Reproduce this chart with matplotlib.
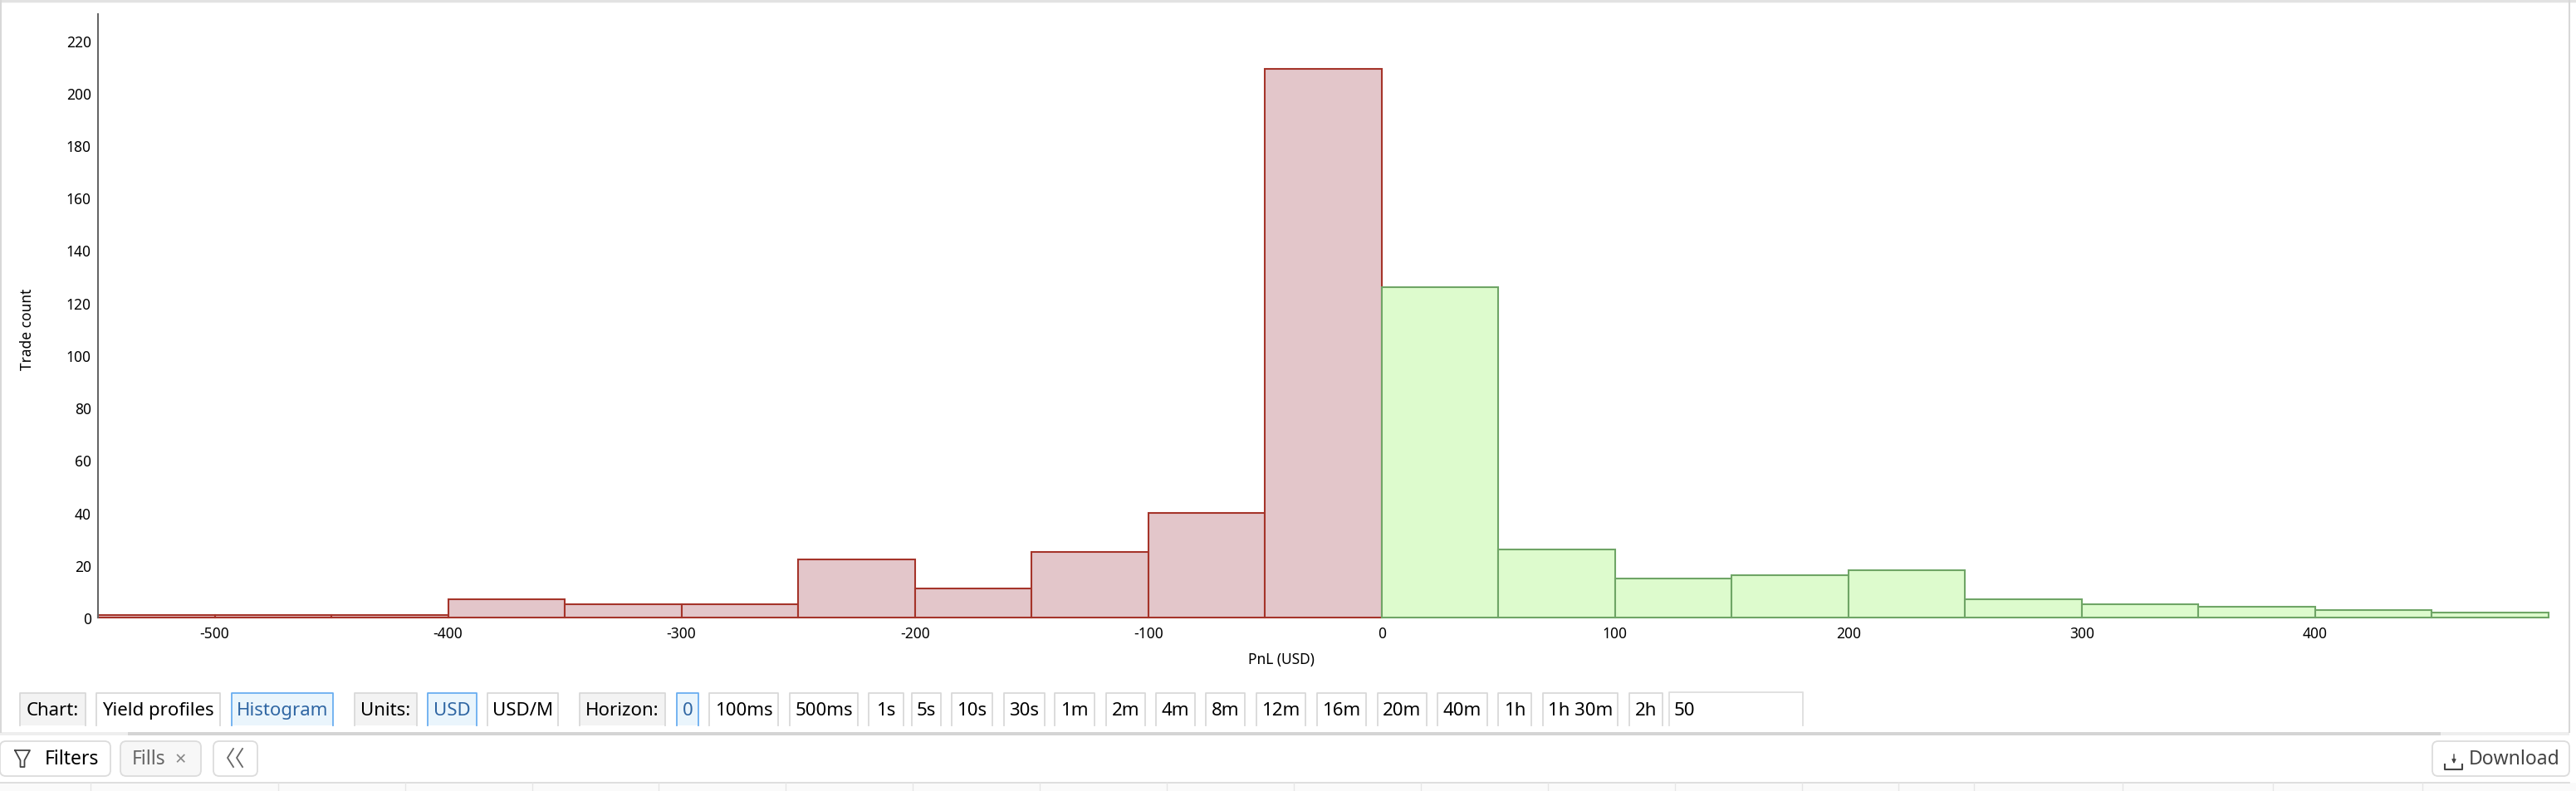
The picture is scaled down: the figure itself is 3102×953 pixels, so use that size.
import matplotlib
matplotlib.use("Agg")
import matplotlib.pyplot as plt
from matplotlib.patches import FancyBboxPatch, Rectangle

W, H = 3102, 954
plt.rcParams['font.family'] = ['Noto Sans', 'DejaVu Sans']
plt.rcParams['axes.unicode_minus'] = False

# histogram data
loss_bins = [-550, -500, -450, -400, -350, -300, -250, -200, -150, -100, -50]
loss_counts = [1, 1, 1, 7, 5, 5, 22, 11, 25, 40, 209]
gain_bins = [0, 50, 100, 150, 200, 250, 300, 350, 400, 450]
gain_counts = [126, 26, 15, 16, 18, 7, 5, 4, 3, 2]
bin_width = 50
x_ticks = [-500, -400, -300, -200, -100, 0, 100, 200, 300, 400]
y_ticks = list(range(0, 221, 20))

# toolbar
toolbar_labels = ["Chart:", "Yield profiles", "Histogram", "Units:", "USD", "USD/M", "Horizon:",
                  "0", "100ms", "500ms", "1s", "5s", "10s", "30s", "1m", "2m", "4m", "8m",
                  "12m", "16m", "20m", "40m", "1h", "1h 30m", "2h"]
toolbar_left = [24, 116, 279, 427, 515, 587, 698, 815, 854, 951, 1046, 1098, 1146, 1209, 1270,
                1332, 1392, 1452, 1513, 1586, 1659, 1731, 1804, 1858, 1962]
toolbar_right = [103, 265, 401, 502, 574, 672, 801, 841, 937, 1033, 1088, 1133, 1195, 1258, 1318,
                 1379, 1439, 1499, 1572, 1645, 1718, 1791, 1844, 1948, 2002]
caption_labels = ["Chart:", "Units:", "Horizon:"]
active_labels = ["Histogram", "USD", "0"]
table_separators = [109, 335, 488, 641, 793, 946, 1099, 1252, 1405, 1558, 1711, 1864, 2017, 2170,
                    2286, 2377, 2556, 2737, 2917]

fig = plt.figure(figsize=(W / 100, H / 100), dpi=100, facecolor="white")

# chrome layer in pixel coordinates
ui = fig.add_axes([0, 0, 1, 1], zorder=0)
ui.set_xlim(0, W)
ui.set_ylim(H, 0)
ui.axis("off")

ui.plot([0, W], [2, 2], color="#e2e2e2", lw=2.5)
ui.plot([1, 1], [0, 883], color="#d8d8d8", lw=1.5)
ui.plot([3094, 3094], [0, 883], color="#d8d8d8", lw=1.5)
ui.add_patch(Rectangle((0, 883), 3094, 4, fc="#eeeeee", ec="none"))
ui.add_patch(Rectangle((154, 883), 2785, 4, fc="#d4d4d4", ec="none"))

for label, x0, x1 in zip(toolbar_labels, toolbar_left, toolbar_right):
    active = label in active_labels
    face = "#eaf5fc" if active else ("#f3f3f3" if label in caption_labels else "white")
    edge = "#6aaef0" if active else "#d9d9d9"
    color = "#2f66a3" if active else "black"
    ui.add_patch(Rectangle((x0, 836), x1 - x0, 39, fc=face, ec="none"))
    ui.plot([x0, x0, x1, x1], [875, 836, 836, 875], color=edge, lw=1.3)
    ui.text((x0 + x1) / 2, 857, label, color=color, fontsize=16, ha="center", va="center")

# horizon input
ui.plot([2010, 2010, 2171, 2171], [875, 835, 835, 875], color="#dedede", lw=1.3)
ui.text(2016, 857, "50", fontsize=16, ha="left", va="center")


def round_button(x0, x1, face="white"):
    ui.add_patch(FancyBboxPatch((x0 + 5, 899), x1 - x0 - 10, 32, boxstyle="round,pad=5,rounding_size=7",
                                fc=face, ec="#dcdcdc", lw=1.3))


round_button(0, 133)
round_button(145, 242, "#f7f7f7")
round_button(257, 310)
round_button(2929, 3094)

# funnel icon
ui.plot([18, 36, 29.5, 29.5, 24.5, 24.5, 18], [905, 905, 917, 925, 925, 917, 905], color="#444444", lw=1.3)
ui.text(54, 915, "Filters", fontsize=16.5, ha="left", va="center")
ui.text(159, 915, "Fills", fontsize=16.5, color="#666666", ha="left", va="center")
ui.text(217, 916, "×", fontsize=17, color="#888888", ha="center", va="center")

# double chevron
ui.plot([281, 274, 281], [903, 914, 925], color="#666666", lw=1.3)
ui.plot([292, 285, 292], [903, 914, 925], color="#666666", lw=1.3)

# download icon
ui.plot([2944, 2944, 2965, 2965], [922, 928, 928, 922], color="#444444", lw=1.5)
ui.annotate("", xy=(2955, 924), xytext=(2955, 907), arrowprops=dict(arrowstyle="-|>", color="#444444", lw=1, mutation_scale=7))
ui.text(2973, 915, "Download", fontsize=16.5, color="#444444", ha="left", va="center")

# table header strip
ui.add_patch(Rectangle((0, 944), W, 10, fc="#fafafa", ec="none"))
ui.plot([0, 3094], [943.5, 943.5], color="#dcdcdc", lw=1.3)
for sx in table_separators:
    ui.plot([sx, sx], [944, H], color="#e6e6e6", lw=1)

# chart
ax = fig.add_axes([118 / W, 1 - 745 / H, (3069 - 118) / W, (745 - 18) / H], zorder=1)
ax.patch.set_alpha(0)
ax.bar(loss_bins, loss_counts, width=bin_width, align="edge", color="#e3c6ca", edgecolor="#a5342a", linewidth=1.5, clip_on=False)
ax.bar(gain_bins, gain_counts, width=bin_width, align="edge", color="#ddfbcd", edgecolor="#6fa566", linewidth=1.5, clip_on=False)
ax.set_xlim(-550, 500)
ax.set_ylim(0, 230)
ax.set_xticks(x_ticks)
ax.set_yticks(y_ticks)
ax.tick_params(axis="both", length=0, labelsize=12.5, pad=7)
ax.tick_params(axis="y", pad=6)
for side in ["top", "right", "bottom"]:
    ax.spines[side].set_visible(False)
ax.spines["left"].set_color("#666666")
ax.spines["left"].set_linewidth(1.5)

ui.text(33, 397, "Trade count", fontsize=12.5, rotation=90, ha="center", va="center")
ui.text(1543, 795, "PnL (USD)", fontsize=12.5, ha="center", va="center")

fig.savefig("out.png", dpi=100)
